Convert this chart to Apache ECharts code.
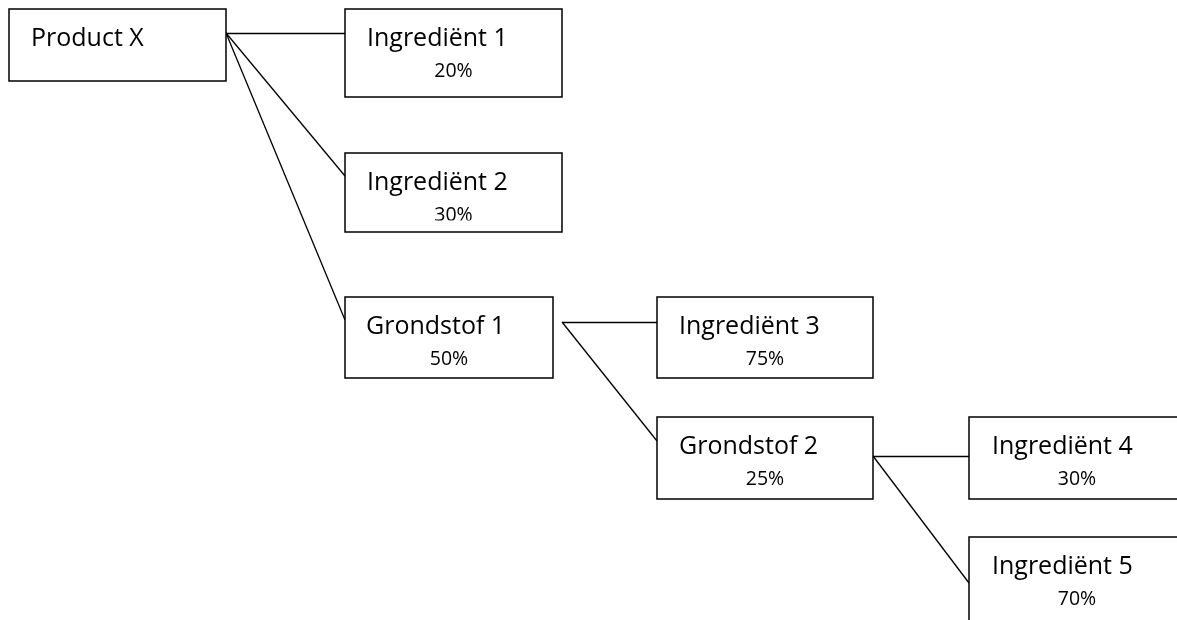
<!DOCTYPE html>
<html>
<head>
<meta charset="utf-8">
<title>Product X</title>
<script src="https://cdn.jsdelivr.net/npm/echarts@6/dist/echarts.min.js"></script>
<style>
  html, body { margin: 0; padding: 0; background: #fff; }
  #main { width: 1177px; height: 620px; }
</style>
</head>
<body>
<div id="main"></div>
<script>
// boom: namen, aandeel, ouder
var nodeNames = ['Product X', 'Ingrediënt 1', 'Ingrediënt 2', 'Grondstof 1', 'Ingrediënt 3', 'Grondstof 2', 'Ingrediënt 4', 'Ingrediënt 5'];
var nodeShares = ['', '20%', '30%', '50%', '75%', '25%', '30%', '70%'];
var nodeParents = [-1, 0, 0, 0, 3, 3, 5, 5];

// plaats van de vakjes (zelfde eenheid als de assen)
var boxLeft   = [9, 345, 345, 345, 657, 657, 969, 969];
var boxTop    = [9, 9, 153, 297, 297, 417, 417, 537];
var boxRight  = [226, 562, 562, 553, 873, 873, 1185, 1185];
var boxBottom = [81, 97, 232, 378, 378, 499, 499, 640];
var textLeft  = [31, 367, 367, 366, 679, 679, 992, 992];
// aanknopingspunten van de lijnen
var inY  = [null, 33, 176, 320, 322, 441, 456, 583];
var outX = [226, null, null, 562, null, 873, null, null];
var outY = [33, null, null, 322, null, 456, null, null];
// tekstvak dat onderaan afsnijdt (alleen bij ingrediënt 2)
var textClip = [null, null, 220.5, null, null, null, null, null];

var boxData = [];
for (var i = 0; i < nodeNames.length; i++) {
  boxData.push([boxLeft[i], boxTop[i], boxRight[i], boxBottom[i], i]);
}

var linkData = [];
for (var j = 0; j < nodeParents.length; j++) {
  var p = nodeParents[j];
  if (p < 0) continue;
  linkData.push({ coords: [[outX[p], outY[p]], [boxLeft[j], inY[j]]] });
}

function renderBox(params, api) {
  var idx = api.value(4);
  var p0 = api.coord([api.value(0), api.value(1)]);
  var p1 = api.coord([api.value(2), api.value(3)]);
  var t = api.coord([textLeft[idx], boxTop[idx] + 29.5]);
  var children = [{
    type: 'rect',
    shape: { x: p0[0], y: p0[1], width: p1[0] - p0[0], height: p1[1] - p0[1] },
    style: { fill: '#fff', stroke: '#000', lineWidth: 1.5 }
  }, {
    type: 'text',
    x: t[0], y: t[1],
    style: {
      text: nodeNames[idx], fill: '#000',
      font: '25px "Open Sans"', align: 'left', verticalAlign: 'middle'
    }
  }];
  if (nodeShares[idx]) {
    var c = api.coord([(boxLeft[idx] + boxRight[idx]) / 2, boxTop[idx] + 62.5]);
    var share = {
      type: 'text',
      x: c[0], y: c[1],
      style: {
        text: nodeShares[idx], fill: '#000',
        font: '19.5px "Open Sans"', align: 'center', verticalAlign: 'middle'
      }
    };
    if (textClip[idx] != null) {
      // clipPath ligt in het eigen assenstelsel van de tekst
      var k = api.coord([boxLeft[idx], textClip[idx]]);
      share.clipPath = {
        type: 'rect',
        shape: { x: p0[0] - c[0], y: p0[1] - c[1], width: p1[0] - p0[0], height: k[1] - p0[1] }
      };
    }
    children.push(share);
  }
  return { type: 'group', children: children };
}

var chart = echarts.init(document.getElementById('main'));
var option = {
  animation: false,
  backgroundColor: '#fff',
  grid: { left: 0, right: 0, top: 0, bottom: 0 },
  xAxis: { type: 'value', min: 0, max: 1177, show: false },
  yAxis: { type: 'value', min: 0, max: 620, inverse: true, show: false },
  series: [{
    type: 'lines',
    coordinateSystem: 'cartesian2d',
    lineStyle: { color: '#000', width: 1.3, opacity: 1, curveness: 0 },
    data: linkData,
    z: 1
  }, {
    type: 'custom',
    coordinateSystem: 'cartesian2d',
    renderItem: renderBox,
    data: boxData,
    clip: false,
    z: 2
  }]
};
chart.setOption(option);
</script>
</body>
</html>
